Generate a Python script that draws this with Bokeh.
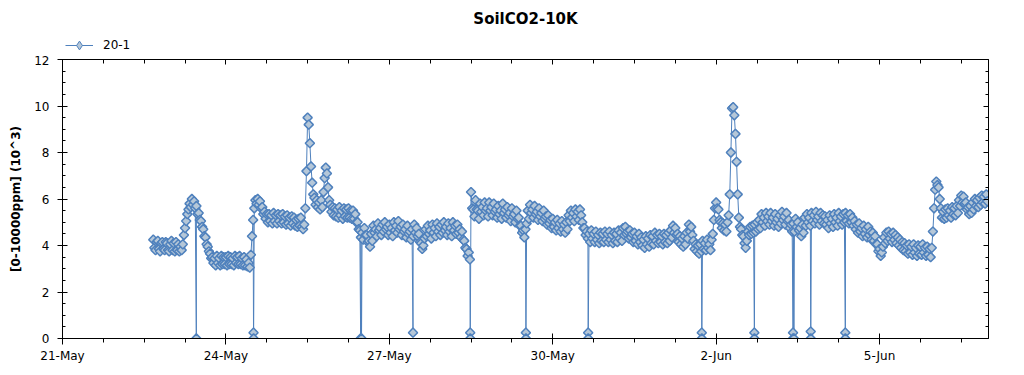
import numpy as np
import pandas as pd
from bokeh.plotting import figure
from bokeh.layouts import column
from bokeh.models import (Range1d, FixedTicker, LinearAxis, Legend, LegendItem,
                          Label, ColumnDataSource)
from bokeh.embed import file_html
from bokeh.resources import INLINE

# ---------------- data ----------------
chart_title = "SoilCO2-10K"
series_name = "20-1"
y_label = "[0-10000ppm] (10^3)"

x_tick_dates = ["2020-05-21", "2020-05-24", "2020-05-27", "2020-05-30", "2020-06-02", "2020-06-05"]
x_tick_labels = ["21-May", "24-May", "27-May", "30-May", "2-Jun", "5-Jun"]
y_ticks = [0, 2, 4, 6, 8, 10, 12]

series_start = "2020-05-22 16:00"   # half-hourly readings from here

v_0522 = [4.25, 3.90, 3.80, 4.15, 4.20, 3.85, 3.75, 4.10, 4.15, 3.85, 3.80, 4.15, 4.10, 3.80, 3.75, 4.05]
v_0523 = [4.20, 3.80, 4.10, 3.75, 4.15, 3.80, 4.05, 3.75, 3.95, 3.80, 4.05, 4.45,
          4.75, 5.05, 5.35, 5.55, 5.80, 5.65, 6.00, 5.75, 5.90, 5.60, 5.70, 5.35,
          5.40, 5.10, 5.05, 4.80, 4.70, 4.40, 4.35, 4.05, 3.95, 3.75, 3.65, 3.45,
          3.50, 3.25, 3.45, 3.15, 3.55, 3.25, 3.45, 3.15, 3.55, 3.20, 3.50, 3.20]
v_0524 = [3.50, 3.15, 3.55, 3.20, 3.50, 3.20, 3.45, 3.15, 3.55, 3.25, 3.50, 3.20,
          3.55, 3.20, 3.45, 3.15, 3.50, 3.15, 3.40, 3.10, 3.25, 3.05, 3.60, 4.40,
          5.10, 5.60, 5.95, 5.80, 6.00, 5.75, 5.90, 5.60, 5.65, 5.35, 5.45, 5.15,
          5.35, 5.00, 5.35, 5.05, 5.30, 4.95, 5.40, 5.05, 5.30, 4.95, 5.35, 5.05]
v_0525 = [5.30, 4.95, 5.35, 5.00, 5.25, 4.90, 5.30, 4.95, 5.20, 4.85, 5.25, 4.95,
          5.20, 4.85, 5.10, 4.80, 5.15, 4.85, 5.20, 4.80, 4.70, 4.90, 5.60, 7.20,
          9.50, 9.20, 8.40, 7.40, 6.70, 6.20, 6.05, 5.75, 5.95, 5.65, 5.85, 5.55,
          5.95, 5.65, 6.30, 6.90, 7.35, 7.10, 6.50, 5.95, 5.75, 5.45, 5.65, 5.30]
v_0526 = [5.60, 5.25, 5.55, 5.20, 5.65, 5.30, 5.50, 5.15, 5.60, 5.25, 5.55, 5.20,
          5.60, 5.20, 5.50, 5.15, 5.50, 5.15, 5.35, 5.00, 5.00, 4.70, 4.65, 4.35,
          4.55, 4.25, 4.75, 4.45, 4.45, 4.15, 4.20, 3.95, 4.50, 4.20, 4.85, 4.55,
          4.70, 4.40, 4.95, 4.65, 4.75, 4.45, 4.90, 4.60, 5.00, 4.70, 4.80, 4.45]
v_0527 = [4.90, 4.55, 4.75, 4.40, 5.00, 4.65, 4.85, 4.55, 5.05, 4.70, 4.80, 4.45,
          4.90, 4.60, 4.70, 4.35, 4.85, 4.50, 4.60, 4.25, 4.70, 4.40, 4.90, 4.55,
          4.75, 4.40, 4.50, 4.15, 4.10, 3.85, 4.00, 4.30, 4.70, 4.40, 4.85, 4.50,
          4.65, 4.30, 4.90, 4.55, 4.75, 4.40, 4.95, 4.60, 4.80, 4.45, 4.90, 4.55]
v_0528 = [5.00, 4.65, 4.80, 4.45, 4.95, 4.60, 4.75, 4.40, 5.00, 4.65, 4.85, 4.50,
          4.90, 4.55, 4.70, 4.35, 4.60, 4.25, 4.20, 3.90, 3.85, 3.55, 3.70, 3.40,
          6.30, 5.60, 5.55, 5.25, 5.95, 5.55, 5.50, 5.15, 5.80, 5.45, 5.65, 5.30,
          5.85, 5.50, 5.60, 5.25, 5.85, 5.50, 5.65, 5.30, 5.80, 5.45, 5.55, 5.20]
v_0529 = [5.70, 5.35, 5.50, 5.15, 5.80, 5.40, 5.55, 5.20, 5.65, 5.30, 5.40, 5.05,
          5.60, 5.25, 5.35, 5.00, 5.50, 5.15, 5.20, 4.85, 4.85, 4.55, 4.65, 4.35,
          4.70, 4.95, 5.50, 5.15, 5.75, 5.40, 5.55, 5.20, 5.70, 5.35, 5.45, 5.10,
          5.60, 5.25, 5.40, 5.05, 5.50, 5.15, 5.25, 4.90, 5.30, 4.95, 5.10, 4.75]
v_0530 = [5.15, 4.80, 5.00, 4.65, 5.10, 4.75, 4.95, 4.60, 5.05, 4.70, 4.90, 4.55,
          5.00, 4.70, 5.30, 5.05, 5.50, 5.20, 5.40, 5.05, 5.55, 5.25, 5.45, 5.10,
          5.55, 5.30, 5.00, 4.75, 4.75, 4.45, 4.60, 4.30, 4.50, 4.15, 4.65, 4.30,
          4.50, 4.15, 4.60, 4.25, 4.45, 4.10, 4.55, 4.20, 4.50, 4.15, 4.60, 4.25]
v_0531 = [4.50, 4.15, 4.60, 4.25, 4.45, 4.10, 4.55, 4.20, 4.50, 4.15, 4.65, 4.30,
          4.55, 4.20, 4.75, 4.45, 4.80, 4.50, 4.60, 4.30, 4.65, 4.35, 4.50, 4.15,
          4.55, 4.20, 4.40, 4.05, 4.50, 4.15, 4.35, 4.00, 4.25, 3.90, 4.40, 4.05,
          4.30, 3.95, 4.45, 4.10, 4.40, 4.05, 4.55, 4.20, 4.45, 4.10, 4.50, 4.15]
v_0601 = [4.40, 4.05, 4.50, 4.15, 4.45, 4.10, 4.55, 4.20, 4.65, 4.35, 4.85, 4.55,
          4.75, 4.45, 4.50, 4.15, 4.40, 4.05, 4.30, 3.95, 4.40, 4.05, 4.55, 4.30,
          4.90, 4.60, 4.80, 4.45, 4.20, 3.85, 4.05, 3.75, 4.00, 3.65, 4.05, 3.75,
          4.20, 3.85, 4.10, 3.80, 4.25, 3.90, 4.05, 3.80, 4.25, 4.50, 5.10, 5.60]
v_0602 = [5.85, 5.60, 5.55, 5.10, 5.00, 4.75, 4.95, 4.65, 4.90, 4.60, 5.00, 5.30,
          6.20, 8.00, 9.90, 9.95, 9.60, 8.80, 7.60, 6.20, 5.20, 4.80, 4.70, 4.45,
          4.40, 4.10, 3.90, 4.20, 4.60, 4.45, 4.80, 4.50, 4.85, 4.55, 4.90, 4.60,
          5.00, 4.70, 5.10, 4.75, 5.35, 5.00, 5.20, 4.85, 5.40, 5.05, 5.25, 4.90]
v_0603 = [5.40, 5.05, 5.20, 4.85, 5.35, 5.00, 5.15, 4.80, 5.30, 4.95, 5.45, 5.10,
          5.25, 4.90, 5.40, 5.05, 5.10, 4.75, 4.90, 4.60, 4.95, 4.60, 5.15, 4.80,
          5.00, 4.65, 4.75, 4.40, 4.90, 4.55, 5.20, 4.85, 5.35, 5.00, 5.20, 4.85,
          5.40, 5.05, 5.30, 4.95, 5.45, 5.10, 5.25, 4.90, 5.40, 5.05, 5.30, 4.95]
v_0604 = [5.25, 4.90, 5.10, 4.75, 5.30, 4.95, 5.15, 4.80, 5.35, 5.00, 5.20, 4.85,
          5.40, 5.05, 5.25, 4.90, 5.35, 5.00, 5.40, 5.05, 5.30, 4.95, 5.35, 5.00,
          5.20, 4.85, 5.05, 4.70, 4.90, 4.55, 4.95, 4.60, 4.75, 4.40, 4.85, 4.50,
          4.70, 4.35, 4.80, 4.45, 4.60, 4.25, 4.55, 4.20, 4.40, 4.05, 4.05, 3.75]
v_0605 = [3.85, 3.55, 3.70, 3.95, 4.35, 4.10, 4.55, 4.20, 4.60, 4.30, 4.50, 4.15,
          4.55, 4.25, 4.45, 4.10, 4.35, 4.00, 4.25, 3.90, 4.15, 3.80, 4.10, 3.75,
          4.00, 3.65, 4.05, 3.70, 3.95, 3.60, 4.05, 3.70, 3.90, 3.55, 4.00, 3.65,
          3.95, 3.60, 4.05, 3.70, 3.90, 3.55, 3.95, 3.60, 3.85, 3.50, 3.90, 4.60]
v_0606 = [5.60, 6.40, 6.75, 6.60, 6.50, 6.00, 5.60, 5.20, 5.45, 5.15, 5.55, 5.20,
          5.60, 5.30, 5.50, 5.20, 5.65, 5.35, 5.60, 5.30, 5.70, 5.40, 5.95, 5.70,
          6.15, 5.85, 6.10, 5.80, 5.85, 5.55, 5.65, 5.35, 5.70, 5.40, 5.85, 5.55,
          6.00, 5.70, 5.95, 5.65, 6.05, 5.75, 6.15, 5.85, 6.10, 5.80, 6.20, 5.90]

# sensor drop-outs (short readings near zero)
drop_times = ["2020-05-23 10:58",
              "2020-05-24 12:10", "2020-05-24 12:12",
              "2020-05-26 11:22", "2020-05-26 11:45",
              "2020-05-27 10:26",
              "2020-05-28 11:38", "2020-05-28 11:40",
              "2020-05-29 12:10", "2020-05-29 12:12",
              "2020-05-30 15:36", "2020-05-30 15:38",
              "2020-06-01 17:40", "2020-06-01 17:42",
              "2020-06-02 16:50", "2020-06-02 16:52",
              "2020-06-03 09:52", "2020-06-03 09:54", "2020-06-03 10:16",
              "2020-06-03 17:40", "2020-06-03 17:42",
              "2020-06-04 08:54", "2020-06-04 08:56"]
drop_vals = [0.0,
             0.25, 0.0,
             0.0, 0.0,
             0.25,
             0.25, 0.0,
             0.25, 0.0,
             0.25, 0.0,
             0.25, 0.0,
             0.25, 0.0,
             0.25, 0.0, 0.0,
             0.3, 0.0,
             0.25, 0.0]

# ---------------- build series ----------------
values = (v_0522 + v_0523 + v_0524 + v_0525 + v_0526 + v_0527 + v_0528 + v_0529 +
          v_0530 + v_0531 + v_0601 + v_0602 + v_0603 + v_0604 + v_0605 + v_0606)
times = pd.date_range(series_start, periods=len(values), freq="30min")
df = pd.DataFrame({"t": list(times) + list(pd.to_datetime(drop_times)),
                   "v": values + drop_vals}).sort_values("t", kind="stable")
source = ColumnDataSource(df)

# ---------------- styling ----------------
BLUE = "#4f81bd"
FILL = "#b5c7d8"
FONT = "DejaVu Sans"
HEAD_H = 55
MAIN_H = 375 - HEAD_H
FRAME_LEFT = 62

x0 = pd.Timestamp("2020-05-21")
x1 = pd.Timestamp("2020-06-07")

# ---------------- main plot ----------------
p = figure(width=1024, height=MAIN_H, output_backend="svg", toolbar_location=None,
           title=None, x_axis_location=None, y_axis_location=None,
           x_range=Range1d(x0, x1), y_range=Range1d(0, 12),
           min_border_left=FRAME_LEFT, min_border_right=36, min_border_top=4,
           min_border_bottom=37)
p.xgrid.visible = False
p.ygrid.visible = False
p.outline_line_color = None
p.background_fill_color = "white"
p.border_fill_color = "white"

major_ms = [pd.Timestamp(d).value / 1e6 for d in x_tick_dates]
minor_ms = [(x0 + pd.Timedelta(hours=18 * i)).value / 1e6 for i in range(0, 23)]
y_minor = list(np.arange(0, 12.01, 0.5))
xt = FixedTicker(ticks=major_ms, minor_ticks=minor_ms)
yt = FixedTicker(ticks=y_ticks, minor_ticks=y_minor)


def style(ax):
    ax.axis_line_color = "black"
    ax.major_tick_line_color = "black"
    ax.minor_tick_line_color = "black"
    ax.major_label_text_font = FONT
    ax.major_label_text_font_size = "12px"
    ax.major_label_text_color = "black"


bottom = LinearAxis(ticker=xt)
style(bottom)
bottom.major_label_overrides = {m: lab for m, lab in zip(major_ms, x_tick_labels)}
bottom.major_tick_in = 5
bottom.major_tick_out = 6
bottom.minor_tick_in = 0
bottom.minor_tick_out = 4
bottom.major_label_standoff = 4
p.add_layout(bottom, "below")

top = LinearAxis(ticker=xt)
style(top)
top.major_label_overrides = {m: "" for m in major_ms}
top.major_label_text_font_size = "1px"
top.major_label_standoff = 0
top.major_tick_in = 5
top.major_tick_out = 0
top.minor_tick_in = 4
top.minor_tick_out = 0
p.add_layout(top, "above")

left = LinearAxis(ticker=yt, axis_label=y_label)
style(left)
left.major_tick_in = 5
left.major_tick_out = 5
left.minor_tick_in = 3
left.minor_tick_out = 0
left.major_label_standoff = 8
left.axis_label_text_font = FONT
left.axis_label_text_font_size = "12px"
left.axis_label_text_font_style = "bold"
left.axis_label_text_color = "black"
left.axis_label_standoff = 8
p.add_layout(left, "left")

right = LinearAxis(ticker=yt)
style(right)
right.major_label_overrides = {t: "" for t in y_ticks}
right.major_label_text_font_size = "1px"
right.major_label_standoff = 0
right.major_tick_in = 5
right.major_tick_out = 0
right.minor_tick_in = 3
right.minor_tick_out = 0
p.add_layout(right, "right")

p.line("t", "v", source=source, line_color=BLUE, line_width=1)
p.scatter("t", "v", source=source, marker="square", angle=np.pi / 4, size=6.5,
          fill_color=FILL, line_color=BLUE, line_width=1.5)

# ---------------- header (title + legend) ----------------
h = figure(width=1024, height=HEAD_H, output_backend="svg", toolbar_location=None,
           title=None, x_axis_location=None, y_axis_location=None,
           x_range=Range1d(x0, x1), y_range=Range1d(100, 101),
           min_border_left=0, min_border_right=0, min_border_top=0, min_border_bottom=0)
h.xgrid.visible = False
h.ygrid.visible = False
h.outline_line_color = None
h.border_fill_color = "white"
# same series, drawn out of the header's view: used only as legend sample
hl = h.line("t", "v", source=source, line_color=BLUE, line_width=1)
hs = h.scatter("t", "v", source=source, marker="diamond", size=9,
               fill_color=FILL, line_color=BLUE, line_width=1)

legend = Legend(items=[LegendItem(label=series_name, renderers=[hl, hs])],
                location=(65 - FRAME_LEFT, HEAD_H - 56), orientation="horizontal",
                padding=0, margin=0, spacing=0, label_standoff=10,
                glyph_width=28, glyph_height=22, label_height=22,
                label_text_font=FONT, label_text_font_size="12px",
                label_text_color="black",
                border_line_color=None, background_fill_alpha=0)
h.add_layout(legend, "center")

h.add_layout(Label(x=525 - FRAME_LEFT, y=HEAD_H - 18, x_units="screen", y_units="screen",
                   text=chart_title, text_align="center", text_baseline="middle",
                   text_font=FONT, text_font_size="15px", text_font_style="bold",
                   text_color="black"))

layout = column(h, p, spacing=0)
open("out.html", "w").write(file_html(layout, INLINE))
